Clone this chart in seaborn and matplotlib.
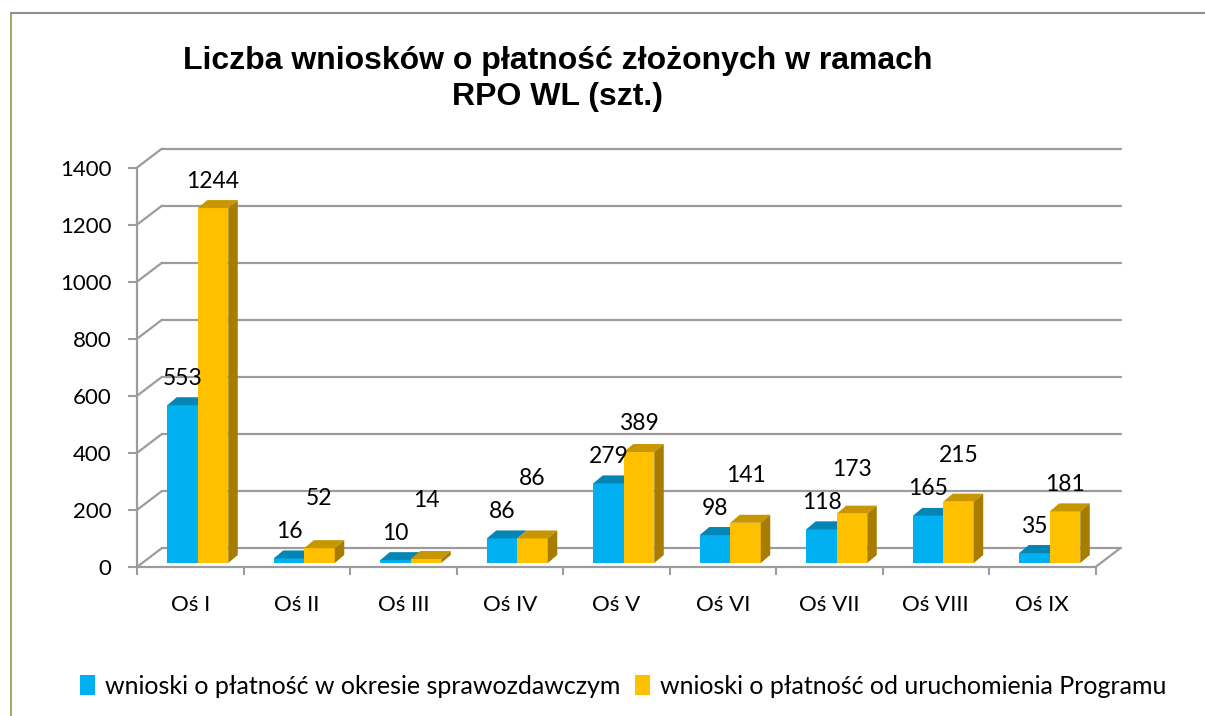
import matplotlib
matplotlib.use('Agg')
import matplotlib.pyplot as plt
import pandas as pd
import seaborn as sns
from matplotlib.patches import Polygon, Patch
from matplotlib.lines import Line2D

sns.set_theme(style='white')
plt.rcParams['font.family'] = ['Lato', 'DejaVu Sans']

# Data
categories = ['Oś I', 'Oś II', 'Oś III', 'Oś IV', 'Oś V', 'Oś VI', 'Oś VII', 'Oś VIII', 'Oś IX']
period_vals = [553, 16, 10, 86, 279, 98, 118, 165, 35]
total_vals = [1244, 52, 14, 86, 389, 141, 173, 215, 181]
series_names = ['wnioski o płatność w okresie sprawozdawczym',
                'wnioski o płatność od uruchomienia Programu']
title = 'Liczba wniosków o płatność złożonych w ramach\nRPO WL (szt.)'
yticks = [0, 200, 400, 600, 800, 1000, 1200, 1400]

df = pd.DataFrame({
    'os': categories * 2,
    'val': period_vals + total_vals,
    'series': [series_names[0]] * len(categories) + [series_names[1]] * len(categories),
})

# Colours
blue, blue_top = '#00B0F0', '#0585B6'
yellow, yellow_top, yellow_side = '#FFC000', '#C89600', '#A67D00'
grid_c = '#9c9c9c'

W, H = 1205, 716
fig = plt.figure(figsize=(W / 100, H / 100), dpi=100)

# axes placed so that x=-0.5 -> px 137, y=0 -> px 567
px_x, px_y = 106.5, 0.2853
left_px, zero_px = 137, 567
xmax, ymax = 8.75, 1500
ax = fig.add_axes([left_px / W, (H - zero_px) / H,
                   (xmax + 0.5) * px_x / W, ymax * px_y / H])

sns.barplot(data=df, x='os', y='val', hue='series', palette=[blue, yellow],
            width=0.573, saturation=1, legend=False, ax=ax, linewidth=0)

ax.set_xlim(-0.5, xmax)
ax.set_ylim(0, ymax)
for s in ax.spines.values():
    s.set_visible(False)

# 3d-ish offsets (data units)
gdx, gdy = 25 / px_x, 19 / px_y     # back wall
bdx, bdy = 9.5 / px_x, 8 / px_y     # bar depth
shift_x, shift_y = 7.5 / px_x, 4 / px_y

# walls / gridlines
for v in yticks:
    ax.plot([-0.5, -0.5 + gdx], [v, v + gdy], color=grid_c, lw=1.6, zorder=1, clip_on=False)
    ax.plot([-0.5 + gdx, 8.5 + gdx], [v + gdy, v + gdy], color=grid_c, lw=1.6, zorder=1, clip_on=False)
ax.plot([-0.5, -0.5], [0, 1400], color=grid_c, lw=1.6, zorder=1, clip_on=False)
ax.plot([-0.5, 8.5], [0, 0], color=grid_c, lw=1.6, zorder=1, clip_on=False)
ax.plot([8.5, 8.5 + gdx], [0, gdy], color=grid_c, lw=1.6, zorder=1, clip_on=False)

# bars: shift and add top / side faces
bars = list(ax.patches)
n = len(categories)
for i, p in enumerate(bars):
    is_blue = i < n
    p.set_x(p.get_x() + shift_x)
    p.set_y(shift_y)
    p.set_zorder(3 if is_blue else 4)
    x0 = p.get_x()
    x1 = x0 + p.get_width()
    y0 = p.get_y()
    top = y0 + p.get_height()
    ax.add_patch(Polygon([(x0, top), (x1, top), (x1 + bdx, top + bdy), (x0 + bdx, top + bdy)],
                         closed=True, facecolor=blue_top if is_blue else yellow_top,
                         lw=0, zorder=3 if is_blue else 4, clip_on=False))
    if not is_blue:
        ax.add_patch(Polygon([(x1, y0), (x1, top), (x1 + bdx, top + bdy), (x1 + bdx, y0 + bdy)],
                             closed=True, facecolor=yellow_side, lw=0, zorder=4, clip_on=False))

# value labels (yellow label pushed up when it would collide with blue one)
lab_off = 27 / px_y
lab_gap = 33 / px_y
for i in range(n):
    pb, py = bars[i], bars[n + i]
    yb = period_vals[i] + shift_y + lab_off
    yy = max(total_vals[i] + shift_y + lab_off, yb + lab_gap)
    ax.text(pb.get_x() + pb.get_width() / 2, yb, str(period_vals[i]),
            ha='center', va='center', fontsize=16.5, color='black', zorder=6)
    ax.text(py.get_x() + py.get_width() / 2, yy, str(total_vals[i]),
            ha='center', va='center', fontsize=16.5, color='black', zorder=6)

# ticks
ax.set_yticks(yticks)
ax.set_yticklabels([str(v) for v in yticks])
ax.set_xticks(range(n))
ax.set_xticklabels(categories)
ax.set_xticks([k - 0.5 for k in range(n + 1)], minor=True)
ax.tick_params(axis='y', which='major', left=True, length=6.5, width=1.5, color=grid_c,
               pad=12, labelsize=16, labelcolor='black')
ax.tick_params(axis='x', which='major', bottom=False, pad=14, labelsize=16, labelcolor='black')
ax.tick_params(axis='x', which='minor', bottom=True, length=6, width=1.5, color=grid_c)
ax.set_xlabel('')
ax.set_ylabel('')
ax.set_facecolor('none')

# title
fig.text(558 / W, 1 - 79 / H, title, ha='center', va='center', fontsize=23, color='black',
         fontweight='bold', family=['Liberation Sans', 'DejaVu Sans'], linespacing=1.28)

# legend
handles = [Patch(facecolor=blue, edgecolor='none'), Patch(facecolor=yellow, edgecolor='none')]
fig.legend(handles, series_names, loc='center', bbox_to_anchor=(623 / W, 1 - 686 / H),
           ncol=2, frameon=False, handlelength=0.6, handleheight=0.9, handletextpad=0.4,
           columnspacing=0.6, labelcolor='black',
           prop={'family': ['Lato', 'DejaVu Sans'], 'size': 18})

# chart border
fig.add_artist(Line2D([11 / W, 11 / W], [0, 1 - 13 / H], transform=fig.transFigure,
                      color='#a9a862', lw=1.5))
fig.add_artist(Line2D([11 / W, 1], [1 - 13 / H, 1 - 13 / H], transform=fig.transFigure,
                      color='#8f8f8f', lw=1.5))

fig.savefig('out.png', dpi=100)
